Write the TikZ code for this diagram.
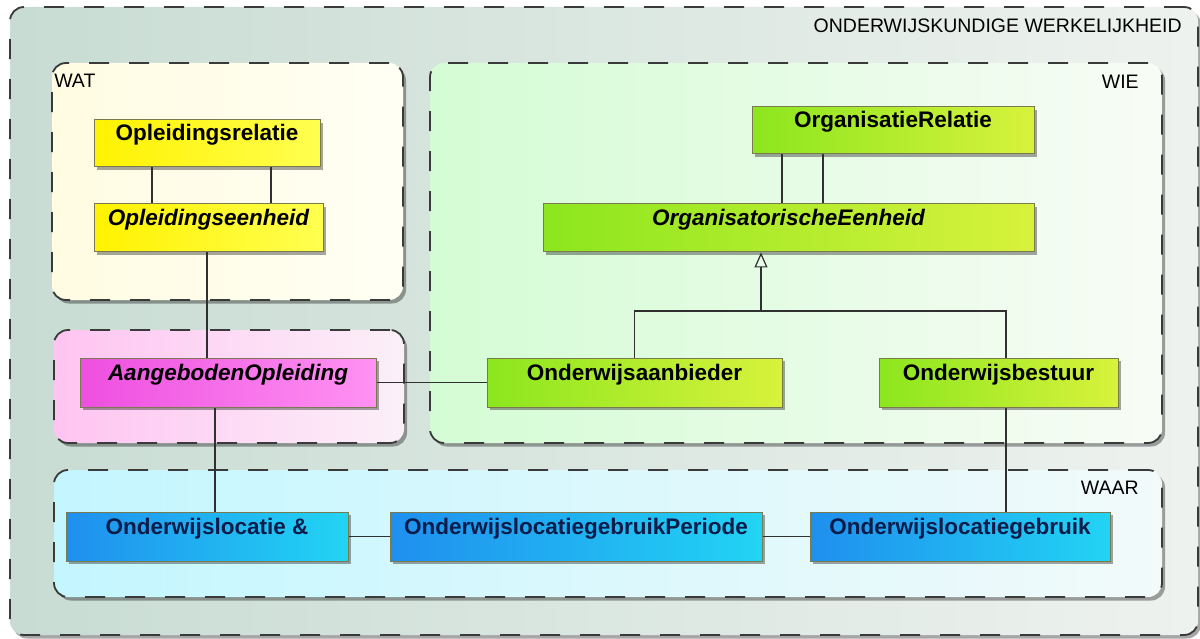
\documentclass[tikz,border=0pt]{standalone}
\usepackage{fontspec}
\setmainfont{Liberation Sans}
\usetikzlibrary{shadows,arrows.meta}
\definecolor{outL}{HTML}{C8DCD3}
\definecolor{outR}{HTML}{EEF2EF}
\definecolor{watL}{HTML}{FFFCE2}
\definecolor{watR}{HTML}{FFFFF4}
\definecolor{wieL}{HTML}{D4FCD4}
\definecolor{wieR}{HTML}{F8FCF6}
\definecolor{pinkL}{HTML}{FFC4F2}
\definecolor{pinkR}{HTML}{FBF0F8}
\definecolor{waarL}{HTML}{C4F6FF}
\definecolor{waarR}{HTML}{F2FAFA}
\definecolor{yelL}{HTML}{FFF200}
\definecolor{yelR}{HTML}{FFFF50}
\definecolor{grnL}{HTML}{8CE61E}
\definecolor{grnR}{HTML}{D8F23C}
\definecolor{magL}{HTML}{EE4FE0}
\definecolor{magR}{HTML}{FF92F2}
\definecolor{bluL}{HTML}{1F8FEE}
\definecolor{bluR}{HTML}{22D4F4}
\definecolor{clsborder}{HTML}{7A7A50}
\definecolor{grpborder}{HTML}{3A3A3A}
\definecolor{connc}{HTML}{303030}
\definecolor{navy}{HTML}{0B1C4A}
\tikzset{
  grp/.style={draw=grpborder, line width=1.8pt, dash pattern=on 20pt off 20pt,
    rounded corners=14pt, inner sep=0pt,
    drop shadow={shadow xshift=3pt, shadow yshift=-3.5pt, opacity=0.35, fill=black}},
  grplbl/.style={font=\fontsize{19.5}{22}\selectfont, text=black, inner sep=0pt},
  cls/.style={draw=clsborder, line width=1pt, inner sep=0pt,
    text height=8pt, text depth=13pt,
    font=\fontsize{22.5}{26}\selectfont\bfseries,
    drop shadow={shadow xshift=3pt, shadow yshift=-3pt, opacity=0.35, fill=black}},
  abs/.style={font=\fontsize{22.5}{26}\selectfont\bfseries\itshape},
  yel/.style={cls, left color=yelL, right color=yelR},
  grn/.style={cls, left color=grnL, right color=grnR},
  mag/.style={cls, left color=magL, right color=magR},
  blu/.style={cls, left color=bluL, right color=bluR, text=navy},
  conn/.style={draw=connc, line width=1.2pt},
}
\begin{document}
\begin{tikzpicture}[x=1pt, y=-1pt]
\useasboundingbox (0,0) rectangle (1200,639);
% groups
\node[grp, left color=outL, right color=outR, minimum width=1188pt, minimum height=628pt] (outer) at (604,321) {};
\node[grp, left color=watL, right color=watR, minimum width=351pt, minimum height=237pt] (wat) at (227.5,181.5) {};
\node[grp, left color=wieL, right color=wieR, minimum width=732pt, minimum height=380pt] (wie) at (796,253) {};
\node[grp, left color=pinkL, right color=pinkR, minimum width=350pt, minimum height=113pt] (pink) at (229,386.5) {};
\node[grp, left color=waarL, right color=waarR, minimum width=1108pt, minimum height=127pt] (waar) at (608,533.5) {};
% group labels
\node[grplbl, anchor=base east] (louter) at ([xshift=-17pt, yshift=-26pt]outer.north east) {ONDERWIJSKUNDIGE WERKELIJKHEID};
\node[grplbl, anchor=base west] (lwat) at ([xshift=3pt, yshift=-25pt]wat.north west) {WAT};
\node[grplbl, anchor=base east] (lwie) at ([xshift=-24pt, yshift=-26pt]wie.north east) {WIE};
\node[grplbl, anchor=base east] (lwaar) at ([xshift=-24pt, yshift=-25pt]waar.north east) {WAAR};
% classes
\node[yel, minimum width=226pt, minimum height=47pt] (opr) at (207,143.5) {Opleidingsrelatie};
\node[yel, abs, minimum width=229pt, minimum height=48pt] (ope) at (208.5,228) {Opleidingseenheid};
\node[grn, minimum width=282pt, minimum height=47pt] (orr) at (893,130.5) {OrganisatieRelatie};
\node[grn, abs, minimum width=491pt, minimum height=48pt] (oe) at (788.5,228) {OrganisatorischeEenheid};
\node[mag, abs, minimum width=296pt, minimum height=49pt] (ao) at (228,382.5) {AangebodenOpleiding};
\node[grn, minimum width=295pt, minimum height=49pt] (oa) at (634.5,382.5) {Onderwijsaanbieder};
\node[grn, minimum width=239pt, minimum height=49pt] (bst) at (998.5,382.5) {Onderwijsbestuur};
\node[blu, minimum width=282pt, minimum height=49pt] (loc) at (207,536.5) {Onderwijslocatie \&};
\node[blu, minimum width=372pt, minimum height=49pt] (per) at (576,536.5) {OnderwijslocatiegebruikPeriode};
\node[blu, minimum width=300pt, minimum height=49pt] (geb) at (960,536.5) {Onderwijslocatiegebruik};
\coordinate (gj) at (761,311);
% connectors
\draw[conn] ([xshift=-55pt]opr.south) -- ([xshift=-55pt]opr.south |- ope.north);
\draw[conn] ([xshift=64pt]opr.south) -- ([xshift=64pt]opr.south |- ope.north);
\draw[conn] ([xshift=-111pt]orr.south) -- ([xshift=-111pt]orr.south |- oe.north);
\draw[conn] ([xshift=-70pt]orr.south) -- ([xshift=-70pt]orr.south |- oe.north);
\draw[conn] ([xshift=-1.5pt]ope.south) -- ([xshift=-1.5pt]ope.south |- ao.north);
\draw[conn] ([xshift=-13pt]ao.south) -- ([xshift=-13pt]ao.south |- loc.north);
\draw[conn] (ao.east) -- (oa.west);
\draw[conn] (loc.east) -- (per.west);
\draw[conn] (per.east) -- (geb.west);
\draw[conn] (oa.north) |- (gj) -| ([xshift=7.5pt]bst.north);
\draw[conn, -{Triangle[open, length=15pt, width=13pt, line width=1.2pt]}] (gj) -- (gj |- oe.south);
\draw[conn] ([xshift=7.5pt]bst.south) -- ([xshift=7.5pt]bst.south |- geb.north);
\end{tikzpicture}
\end{document}
